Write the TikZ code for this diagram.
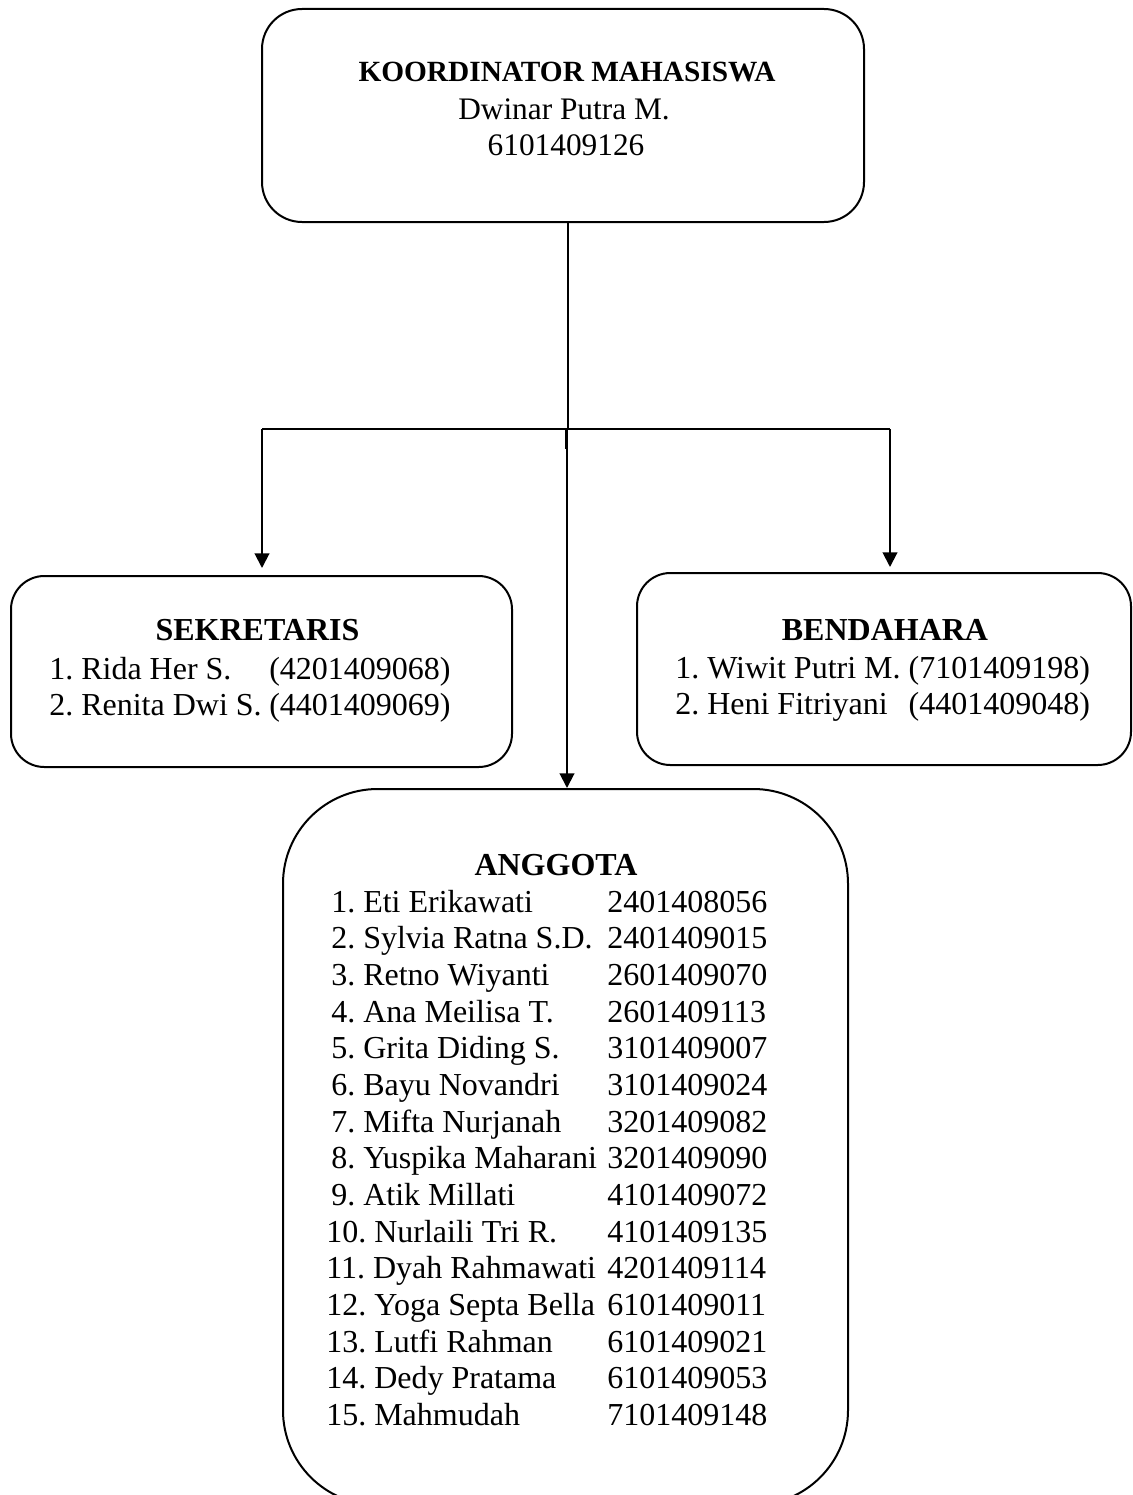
\documentclass[tikz,border=0pt]{standalone}
\usepackage{fontspec}
\setmainfont{Liberation Serif}
\usetikzlibrary{arrows.meta,calc}
\newlength\wrow
\begin{document}
\frenchspacing
\begin{tikzpicture}[x=0.75pt,y=-0.75pt,
  box/.style={draw, line width=1.5pt, inner sep=0pt},
  conn/.style={line width=1.5pt},
  arr/.style={conn, -{Triangle[length=11pt,width=11pt]}},
  txt/.style={inner sep=0pt, anchor=base, font=\fontsize{24pt}{27.5pt}\selectfont\frenchspacing},
  txtb/.style={txt, font=\fontsize{24pt}{27.5pt}\selectfont\bfseries},
  toptxt/.style={inner sep=0pt, anchor=base, font=\fontsize{23.5pt}{27pt}\selectfont},
  toptxtb/.style={inner sep=0pt, anchor=base, font=\fontsize{22pt}{26pt}\selectfont\bfseries}]
\useasboundingbox (0,0) rectangle (1132,1495);
\begin{scope}
\clip (0,0) rectangle (1132,1495);
% boxes
\node[box, rounded corners=30pt, minimum width=451.5pt, minimum height=159.75pt] (top) at (563,115.5) {};
\node[box, rounded corners=25pt, minimum width=375.75pt, minimum height=143.25pt] (sek) at (261.5,671.5) {};
\node[box, rounded corners=25pt, minimum width=370.5pt, minimum height=144pt] (ben) at (884,669) {};
\node[box, rounded corners=71pt, minimum width=423.75pt, minimum height=537pt] (ang) at (565.5,1147) {};
% junction coordinates
\coordinate (jc) at (568,429);
\coordinate (jl) at (262,429);
\coordinate (jr) at (890,429);
\coordinate (jm) at (567,429);
% connectors
\draw[conn] (top.south -| jc) -- (jc);
\draw[conn] (jl) -- (jr);
\draw[arr] (jl) -- ($(jl |- sek.north)+(0,-7)$);
\draw[arr] (jr) -- ($(jr |- ben.north)+(0,-5)$);
\draw[arr] (jm) -- (jm |- ang.north);
\draw[conn] (565.5,429) -- (565.5,449);
% top box text
\node[toptxtb] (kt) at (567,81) {KOORDINATOR MAHASISWA};
\node[toptxt] (kn) at (564,119) {Dwinar Putra M.};
\node[toptxt] (kd) at (566,155) {6101409126};
% sekretaris
\node[txtb] (st) at (257.5,640) {SEKRETARIS};
\node[txt, anchor=base west] (sl) at (49,679) {\begin{tabular}[t]{@{}p{165pt}@{}l@{}}1. Rida Her S. & (4201409068)\\2. Renita Dwi S. & (4401409069)\end{tabular}};
% bendahara
\node[txtb] (bt) at (885,640) {BENDAHARA};
\node[txt, anchor=base west] (bl) at (675,678) {\settowidth{\wrow}{1. Wiwit Putri M. (7101409198)}\begin{tabular}[t]{@{}l@{}}1. Wiwit Putri M. (7101409198)\\\makebox[\wrow][l]{2. Heni Fitriyani\hfill(4401409048)}\end{tabular}};
% anggota
\node[txtb] (at) at (556,875) {ANGGOTA};
\node[txt, anchor=base west] (al) at (331,912) {\begin{tabular}[t]{@{}p{207pt}@{}l@{}}
1. Eti Erikawati & 2401408056\\
2. Sylvia Ratna S.D. & 2401409015\\
3. Retno Wiyanti & 2601409070\\
4. Ana Meilisa T. & 2601409113\\
5. Grita Diding S. & 3101409007\\
6. Bayu Novandri & 3101409024\\
7. Mifta Nurjanah & 3201409082\\
8. Yuspika Maharani & 3201409090\\
9. Atik Millati & 4101409072\\
\hspace*{-3.75pt}10. Nurlaili Tri R. & 4101409135\\
\hspace*{-3.75pt}11. Dyah Rahmawati & 4201409114\\
\hspace*{-3.75pt}12. Yoga Septa Bella & 6101409011\\
\hspace*{-3.75pt}13. Lutfi Rahman & 6101409021\\
\hspace*{-3.75pt}14. Dedy Pratama & 6101409053\\
\hspace*{-3.75pt}15. Mahmudah & 7101409148
\end{tabular}};
\end{scope}
\end{tikzpicture}
\end{document}
